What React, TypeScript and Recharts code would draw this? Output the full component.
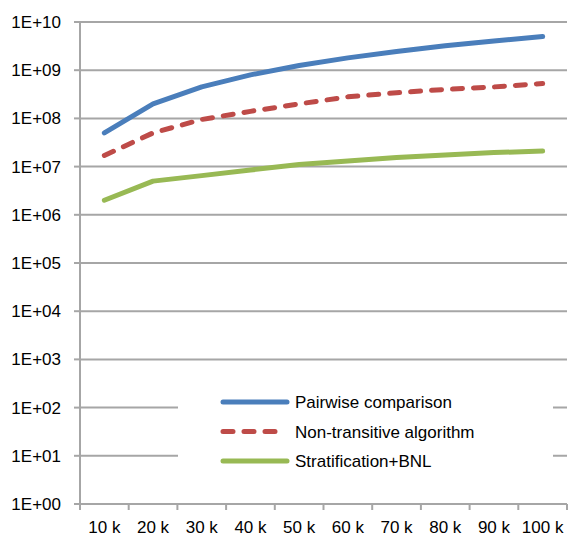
import { LineChart, Line, XAxis, YAxis, CartesianGrid, Legend } from 'recharts'

// sample sizes on the x axis
const categories = ['10 k', '20 k', '30 k', '40 k', '50 k', '60 k', '70 k', '80 k', '90 k', '100 k']

// comparisons per algorithm
const pairwise = [5e7, 2e8, 4.5e8, 8e8, 1.25e9, 1.8e9, 2.45e9, 3.2e9, 4.05e9, 5e9]
const nonTransitive = [1.7e7, 5e7, 9.5e7, 1.4e8, 2.0e8, 2.8e8, 3.4e8, 4.0e8, 4.5e8, 5.3e8]
const stratification = [2e6, 5e6, 6.5e6, 8.5e6, 1.1e7, 1.3e7, 1.55e7, 1.75e7, 1.95e7, 2.1e7]

const yTicks = [1, 1e1, 1e2, 1e3, 1e4, 1e5, 1e6, 1e7, 1e8, 1e9, 1e10]

const series = [
  { key: 'pairwise', name: 'Pairwise comparison', color: '#4A7EBB', dash: undefined as string | undefined },
  { key: 'nonTransitive', name: 'Non-transitive algorithm', color: '#BE4B48', dash: '10 11' },
  { key: 'stratification', name: 'Stratification+BNL', color: '#98B954', dash: undefined as string | undefined },
]

const data = categories.map((c, i) => ({
  size: c,
  pairwise: pairwise[i],
  nonTransitive: nonTransitive[i],
  stratification: stratification[i],
}))

const W = 569
const H = 537
const Y_AXIS_W = 80
const RIGHT = 2
const HALF_BAND = (W - Y_AXIS_W - RIGHT) / categories.length / 2
const GRID = '#A6A6A6'
const FONT = '"Liberation Sans", Arial, sans-serif'

const sci = (v: number) => {
  const e = Math.round(Math.log10(v))
  return `1E+${String(e).padStart(2, '0')}`
}

// Excel-style category ticks: marks between categories, labels in the middle
function CategoryTick(props: any) {
  const { x, y, payload, index } = props
  const last = index === categories.length - 1
  return (
    <g>
      <line x1={x - HALF_BAND} x2={x - HALF_BAND} y1={y} y2={y + 6} stroke={GRID} strokeWidth={2} />
      {last && <line x1={x + HALF_BAND} x2={x + HALF_BAND} y1={y} y2={y + 6} stroke={GRID} strokeWidth={2} />}
      <text x={x} y={y + 29} textAnchor="middle" fontSize={17} fill="#000" fontFamily={FONT}>
        {payload.value}
      </text>
    </g>
  )
}

function LegendBox() {
  return (
    <svg width={375} height={95} style={{ display: 'block' }}>
      {series.map((s, i) => {
        const cy = 19 + i * 29.5
        return (
          <g key={s.key}>
            <line
              x1={45}
              x2={s.dash ? 100 : 109}
              y1={cy}
              y2={cy}
              stroke={s.color}
              strokeWidth={5}
              strokeLinecap="round"
              strokeDasharray={s.dash}
            />
            <text x={117} y={cy + 6} fontSize={17} fill="#000" fontFamily={FONT}>
              {s.name}
            </text>
          </g>
        )
      })}
    </svg>
  )
}

export default function App() {
  return (
    <div style={{ position: 'absolute', left: 0, top: 0, fontFamily: FONT }}>
      <LineChart width={W} height={H} data={data} margin={{ top: 22, right: RIGHT, bottom: 0, left: 0 }}>
        <CartesianGrid vertical={false} stroke={GRID} strokeWidth={2} />
        <XAxis
          dataKey="size"
          height={33}
          padding={{ left: HALF_BAND, right: HALF_BAND }}
          axisLine={{ stroke: GRID, strokeWidth: 2 }}
          tickLine={false}
          tickSize={0}
          tickMargin={0}
          interval={0}
          tick={<CategoryTick />}
        />
        <YAxis
          scale="log"
          domain={[1, 1e10]}
          ticks={yTicks}
          interval={0}
          allowDataOverflow
          width={Y_AXIS_W}
          tickFormatter={sci}
          axisLine={{ stroke: GRID, strokeWidth: 2 }}
          tickLine={{ stroke: GRID, strokeWidth: 2 }}
          tickSize={6}
          tickMargin={13}
          tick={{ fontSize: 17, fill: '#000' }}
        />
        <Legend
          layout="vertical"
          align="center"
          verticalAlign="middle"
          content={<LegendBox />}
          wrapperStyle={{ left: 178, top: 383, width: 375, height: 95, background: '#fff' }}
        />
        {series.map(s => (
          <Line
            key={s.key}
            type="linear"
            dataKey={s.key}
            name={s.name}
            stroke={s.color}
            strokeWidth={5}
            strokeDasharray={s.dash}
            strokeLinecap="round"
            strokeLinejoin="round"
            dot={false}
            activeDot={false}
            isAnimationActive={false}
          />
        ))}
      </LineChart>
    </div>
  )
}
